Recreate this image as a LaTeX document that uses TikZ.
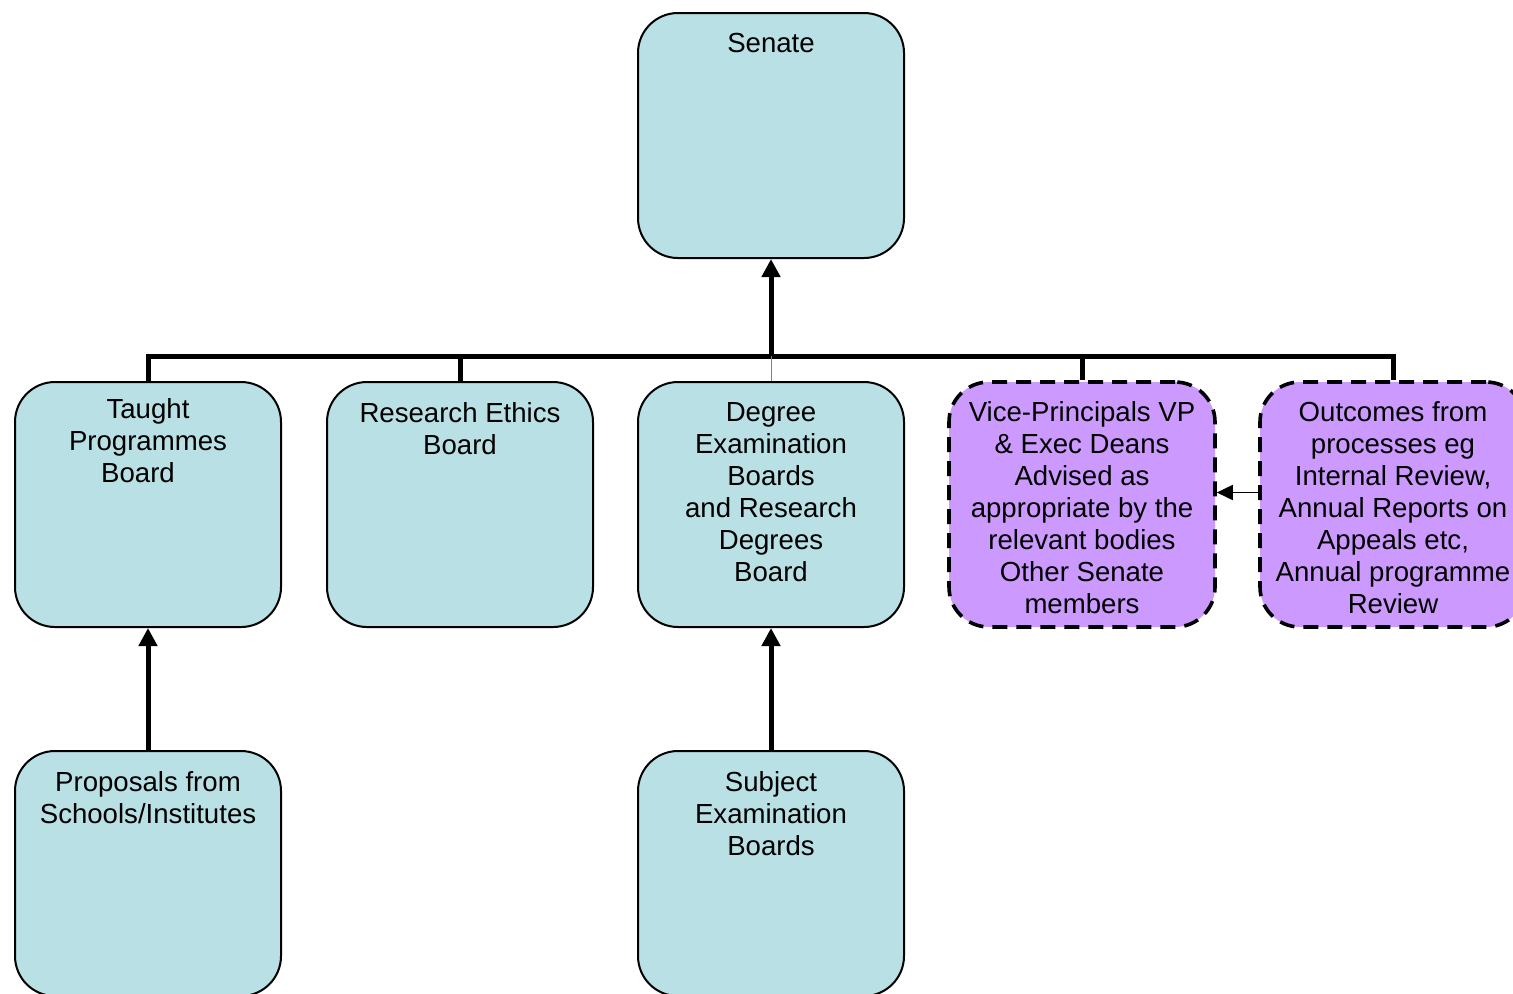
\documentclass[tikz,border=0pt]{standalone}
\usepackage{fontspec}
\setmainfont{Liberation Sans}
\usepackage{tikz}
\usetikzlibrary{positioning,arrows.meta}

\definecolor{boxblue}{RGB}{185,224,228}
\definecolor{boxlilac}{RGB}{204,153,255}

\begin{document}
\begin{tikzpicture}[
    x=0.5pt,y=-0.5pt,
    font=\fontsize{13.8}{16}\selectfont,
    body/.style={draw,line width=1pt,rounded corners=20pt,minimum width=133pt,minimum height=122.5pt,fill=boxblue},
    extbody/.style={body,fill=boxlilac,line width=1.8pt,dash pattern=on 7.5pt off 4.5pt},
    caption/.style={inner sep=0pt,align=center,anchor=north},
    bus/.style={line width=2.5pt},
    up/.style={line width=2.5pt,-{Triangle[width=9pt,length=9pt]}},
    thinup/.style={line width=0.9pt,-{Triangle[width=7.5pt,length=8pt]}}
  ]
    \clip (0,0) rectangle (1513,993);
    \fill[white] (0,0) rectangle (1513,993);

    \node[body] (senate) at (771,135.5) {};
    \node[body] (taught) at (148,504.5) {};
    \node[body] (ethics) at (460,504.5) {};
    \node[body] (degree) at (771,504.5) {};
    \node[extbody] (vp) at (1082,504.5) {};
    \node[extbody] (outcomes) at (1393,504.5) {};
    \node[body] (proposals) at (148,873.5) {};
    \node[body] (subject) at (771,873.5) {};

    \node[caption,below=10.5pt of senate.north] (senatetxt) {Senate};
    \node[caption,below=8.5pt of taught.north] (taughttxt) {Taught\\Programmes\\Board\hspace*{10pt}};
    \node[caption,below=10.5pt of ethics.north] (ethicstxt) {Research Ethics\\Board};
    \node[caption,below=10.5pt of degree.north] (degreetxt) {Degree\\Examination\\Boards\\and Research\\Degrees\\Board};
    \node[caption,below=10.5pt of vp.north] (vptxt) {Vice-Principals VP\\\& Exec Deans\\Advised as\\appropriate by the\\relevant bodies\\Other Senate\\members};
    \node[caption,below=10.5pt of outcomes.north] (outcomestxt) {Outcomes from\\processes eg\\Internal Review,\\Annual Reports on\\Appeals etc,\\Annual programme\\Review};
    \node[caption,below=10.5pt of proposals.north] (proposalstxt) {Proposals from\\Schools/Institutes};
    \node[caption,below=10.5pt of subject.north] (subjecttxt) {Subject\\Examination\\Boards};

    \coordinate (hub) at (771,356);

    \draw[bus] (taught.north) |- (hub) -| (outcomes.north);
    \draw[bus] (ethics.north) -- (ethics.north |- hub);
    \draw[bus] (vp.north) -- (vp.north |- hub);
    \draw[gray,line width=0.5pt] (degree.north) -- (degree.north |- hub);
    \draw[up] (hub) -- (senate.south);
    \draw[up] (proposals.north) -- (taught.south);
    \draw[up] (subject.north) -- (degree.south);
    \draw[thinup] ([yshift=6pt]outcomes.west) -- ([yshift=6pt]vp.east);
  \end{tikzpicture}
\end{document}
